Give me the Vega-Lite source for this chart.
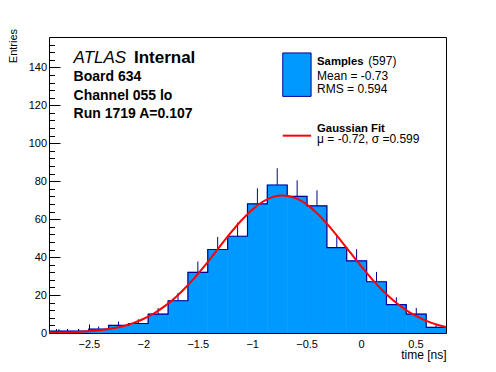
{
  "$schema": "https://vega.github.io/schema/vega-lite/v6.json",
  "width": 397,
  "height": 296,
  "autosize": "none",
  "padding": {"left": 49, "top": 37, "right": 50, "bottom": 39},
  "background": "white",
  "config": {
    "view": {"stroke": "black", "strokeWidth": 1},
    "font": "Liberation Sans",
    "text": {"font": "Liberation Sans", "color": "black", "align": "left", "baseline": "alphabetic"}
  },
  "datasets": {
    "hist": [
      {"start": -2.866, "end": -2.684, "mid": -2.775, "count": 1, "err": 1},
      {"start": -2.684, "end": -2.501, "mid": -2.593, "count": 1, "err": 1},
      {"start": -2.501, "end": -2.319, "mid": -2.41, "count": 2, "err": 1.41},
      {"start": -2.319, "end": -2.137, "mid": -2.228, "count": 4, "err": 2},
      {"start": -2.137, "end": -1.955, "mid": -2.046, "count": 5, "err": 2.24},
      {"start": -1.955, "end": -1.772, "mid": -1.864, "count": 10, "err": 3.16},
      {"start": -1.772, "end": -1.59, "mid": -1.681, "count": 17, "err": 4.12},
      {"start": -1.59, "end": -1.408, "mid": -1.499, "count": 32, "err": 5.66},
      {"start": -1.408, "end": -1.225, "mid": -1.317, "count": 44, "err": 6.63},
      {"start": -1.225, "end": -1.043, "mid": -1.134, "count": 51, "err": 7.14},
      {"start": -1.043, "end": -0.861, "mid": -0.952, "count": 68, "err": 8.25},
      {"start": -0.861, "end": -0.678, "mid": -0.77, "count": 78, "err": 8.83},
      {"start": -0.678, "end": -0.496, "mid": -0.587, "count": 72, "err": 8.49},
      {"start": -0.496, "end": -0.314, "mid": -0.405, "count": 67, "err": 8.19},
      {"start": -0.314, "end": -0.132, "mid": -0.223, "count": 45, "err": 6.71},
      {"start": -0.132, "end": 0.051, "mid": -0.041, "count": 38, "err": 6.16},
      {"start": 0.051, "end": 0.233, "mid": 0.142, "count": 27, "err": 5.2},
      {"start": 0.233, "end": 0.415, "mid": 0.324, "count": 15, "err": 3.87},
      {"start": 0.415, "end": 0.598, "mid": 0.507, "count": 10, "err": 3.16},
      {"start": 0.598, "end": 0.78, "mid": 0.689, "count": 3, "err": 1.73}
    ],
    "fit": [
      {"t": -2.866, "f": 0.11}, {"t": -2.8, "f": 0.175}, {"t": -2.7, "f": 0.31}, {"t": -2.6, "f": 0.53},
      {"t": -2.5, "f": 0.88}, {"t": -2.4, "f": 1.42}, {"t": -2.3, "f": 2.24}, {"t": -2.2, "f": 3.43},
      {"t": -2.1, "f": 5.1}, {"t": -2.0, "f": 7.39}, {"t": -1.9, "f": 10.41}, {"t": -1.8, "f": 14.27},
      {"t": -1.7, "f": 19.01}, {"t": -1.6, "f": 24.64}, {"t": -1.5, "f": 31.06}, {"t": -1.4, "f": 38.06},
      {"t": -1.3, "f": 45.37}, {"t": -1.2, "f": 52.59}, {"t": -1.1, "f": 59.28}, {"t": -1.0, "f": 65.0},
      {"t": -0.9, "f": 69.3}, {"t": -0.8, "f": 71.86}, {"t": -0.72, "f": 72.5}, {"t": -0.6, "f": 71.06},
      {"t": -0.5, "f": 67.77}, {"t": -0.4, "f": 62.86}, {"t": -0.3, "f": 56.7}, {"t": -0.2, "f": 49.74},
      {"t": -0.1, "f": 42.43}, {"t": 0.0, "f": 35.21}, {"t": 0.1, "f": 28.4}, {"t": 0.2, "f": 22.29},
      {"t": 0.3, "f": 17.01}, {"t": 0.4, "f": 12.62}, {"t": 0.5, "f": 9.11}, {"t": 0.6, "f": 6.39},
      {"t": 0.7, "f": 4.36}, {"t": 0.78, "f": 3.15}
    ]
  },
  "layer": [
    {
      "data": {"name": "hist"},
      "mark": {"type": "errorbar", "color": "#000099", "thickness": 1},
      "encoding": {
        "x": {"field": "mid", "type": "quantitative", "title": "time [ns]", "scale": {"domain": [-2.866, 0.78], "nice": false, "zero": false}},
        "y": {"field": "count", "type": "quantitative", "title": "Entries", "scale": {"domain": [0, 156], "nice": false, "zero": false}},
        "yError": {"field": "err"}
      }
    },
    {
      "data": {"name": "hist"},
      "mark": {"type": "rect", "fill": "#0099ff", "stroke": "#0099ff", "strokeWidth": 0.6, "clip": true},
      "encoding": {
        "x": {
          "field": "start", "type": "quantitative",
          "scale": {"domain": [-2.866, 0.78], "nice": false, "zero": false},
          "axis": {
            "values": [-2.8, -2.7, -2.6, -2.5, -2.4, -2.3, -2.2, -2.1, -2.0, -1.9, -1.8, -1.7, -1.6, -1.5, -1.4, -1.3, -1.2, -1.1, -1.0, -0.9, -0.8, -0.7, -0.6, -0.5, -0.4, -0.3, -0.2, -0.1, 0, 0.1, 0.2, 0.3, 0.4, 0.5, 0.6, 0.7],
            "tickCount": 500,
            "format": ".1~f",
            "labelExpr": "abs(round(datum.value*10)) % 5 === 0 ? datum.label : ''",
            "tickSize": {"condition": {"test": "abs(round(datum.value*10)) % 5 === 0", "value": -9}, "value": -4.5},
            "tickColor": "black",
            "tickWidth": 1,
            "domain": false,
            "grid": false,
            "labelFont": "Liberation Sans",
            "labelFontSize": 11,
            "labelColor": "black",
            "labelPadding": 14.5,
            "labelFlush": false,
            "labelOverlap": false,
            "title": "time [ns]",
            "titleFont": "Liberation Sans",
            "titleFontSize": 12,
            "titleFontWeight": "normal",
            "titleColor": "black",
            "titleAnchor": "end",
            "titleAlign": "right",
            "titleBaseline": "alphabetic",
            "titleX": 397,
            "titleY": 25.5
          }
        },
        "x2": {"field": "end"},
        "y": {
          "field": "count", "type": "quantitative",
          "scale": {"domain": [0, 156], "nice": false, "zero": false},
          "axis": {
            "values": [0, 4, 8, 12, 16, 20, 24, 28, 32, 36, 40, 44, 48, 52, 56, 60, 64, 68, 72, 76, 80, 84, 88, 92, 96, 100, 104, 108, 112, 116, 120, 124, 128, 132, 136, 140, 144, 148, 152],
            "tickCount": 500,
            "format": "d",
            "labelExpr": "datum.value % 20 === 0 ? datum.label : ''",
            "tickSize": {"condition": {"test": "datum.value % 20 === 0", "value": -11}, "value": -5.5},
            "tickColor": "black",
            "tickWidth": 1,
            "domain": false,
            "grid": false,
            "labelFont": "Liberation Sans",
            "labelFontSize": 11,
            "labelColor": "black",
            "labelPadding": 13.5,
            "labelFlush": false,
            "labelOverlap": false,
            "title": "Entries",
            "titleFont": "Liberation Sans",
            "titleFontSize": 11,
            "titleFontWeight": "normal",
            "titleColor": "black",
            "titleAngle": -90,
            "titleAlign": "right",
            "titleBaseline": "alphabetic",
            "titleX": -32.5,
            "titleY": -8.6
          }
        },
        "y2": {"datum": 0}
      }
    },
    {
      "data": {"name": "hist"},
      "transform": [{"fold": ["start", "end"], "as": ["side", "ex"]}],
      "mark": {"type": "line", "color": "#000099", "strokeWidth": 1.2, "clip": true},
      "encoding": {
        "x": {"field": "ex", "type": "quantitative", "scale": {"domain": [-2.866, 0.78], "nice": false, "zero": false}},
        "y": {"field": "count", "type": "quantitative", "scale": {"domain": [0, 156], "nice": false, "zero": false}},
        "order": [{"field": "ex", "type": "quantitative"}, {"field": "side", "type": "nominal"}]
      }
    },
    {
      "data": {"name": "fit"},
      "mark": {"type": "line", "color": "#ff0000", "strokeWidth": 2, "interpolate": "monotone", "clip": true},
      "encoding": {
        "x": {"field": "t", "type": "quantitative", "scale": {"domain": [-2.866, 0.78], "nice": false, "zero": false}},
        "y": {"field": "f", "type": "quantitative", "scale": {"domain": [0, 156], "nice": false, "zero": false}}
      }
    },
    {
      "data": {"values": [{"a": -0.719, "b": -0.459, "lo": 124.7, "hi": 147.6}]},
      "mark": {"type": "rect", "fill": "#0099ff", "stroke": "#000099", "strokeWidth": 1},
      "encoding": {
        "x": {"field": "a", "type": "quantitative", "scale": {"domain": [-2.866, 0.78], "nice": false, "zero": false}},
        "x2": {"field": "b"},
        "y": {"field": "lo", "type": "quantitative", "scale": {"domain": [0, 156], "nice": false, "zero": false}},
        "y2": {"field": "hi"}
      }
    },
    {
      "data": {"values": [{"a": -0.719, "b": -0.459, "v": 104.0}]},
      "mark": {"type": "rule", "color": "#ff0000", "strokeWidth": 2},
      "encoding": {
        "x": {"field": "a", "type": "quantitative", "scale": {"domain": [-2.866, 0.78], "nice": false, "zero": false}},
        "x2": {"field": "b"},
        "y": {"field": "v", "type": "quantitative", "scale": {"domain": [0, 156], "nice": false, "zero": false}}
      }
    },
    {
      "data": {"values": [{"label": "ATLAS", "px": -2.64, "py": 142.3}]},
      "mark": {"type": "text", "fontSize": 17, "fontStyle": "italic", "fontWeight": "normal"},
      "encoding": {
        "x": {"field": "px", "type": "quantitative", "scale": {"domain": [-2.866, 0.78], "nice": false, "zero": false}},
        "y": {"field": "py", "type": "quantitative", "scale": {"domain": [0, 156], "nice": false, "zero": false}},
        "text": {"field": "label"}
      }
    },
    {
      "data": {"values": [{"label": "Internal", "px": -2.086, "py": 142.3}]},
      "mark": {"type": "text", "fontSize": 17, "fontWeight": "bold"},
      "encoding": {
        "x": {"field": "px", "type": "quantitative", "scale": {"domain": [-2.866, 0.78], "nice": false, "zero": false}},
        "y": {"field": "py", "type": "quantitative", "scale": {"domain": [0, 156], "nice": false, "zero": false}},
        "text": {"field": "label"}
      }
    },
    {
      "data": {"values": [
        {"label": "Board 634", "px": -2.64, "py": 132.6},
        {"label": "Channel 055 lo", "px": -2.64, "py": 123.0},
        {"label": "Run 1719 A=0.107", "px": -2.64, "py": 113.3}
      ]},
      "mark": {"type": "text", "fontSize": 14, "fontWeight": "bold"},
      "encoding": {
        "x": {"field": "px", "type": "quantitative", "scale": {"domain": [-2.866, 0.78], "nice": false, "zero": false}},
        "y": {"field": "py", "type": "quantitative", "scale": {"domain": [0, 156], "nice": false, "zero": false}},
        "text": {"field": "label"}
      }
    },
    {
      "data": {"values": [
        {"label": "Samples", "px": -0.404, "py": 141.1},
        {"label": "Gaussian Fit", "px": -0.404, "py": 106.0}
      ]},
      "mark": {"type": "text", "fontSize": 11.3, "fontWeight": "bold"},
      "encoding": {
        "x": {"field": "px", "type": "quantitative", "scale": {"domain": [-2.866, 0.78], "nice": false, "zero": false}},
        "y": {"field": "py", "type": "quantitative", "scale": {"domain": [0, 156], "nice": false, "zero": false}},
        "text": {"field": "label"}
      }
    },
    {
      "data": {"values": [
        {"label": "(597)", "px": 0.067, "py": 141.1},
        {"label": "Mean = -0.73", "px": -0.404, "py": 133.4},
        {"label": "RMS = 0.594", "px": -0.404, "py": 126.7},
        {"label": "μ = -0.72, σ =0.599", "px": -0.404, "py": 99.9}
      ]},
      "mark": {"type": "text", "fontSize": 12, "fontWeight": "normal"},
      "encoding": {
        "x": {"field": "px", "type": "quantitative", "scale": {"domain": [-2.866, 0.78], "nice": false, "zero": false}},
        "y": {"field": "py", "type": "quantitative", "scale": {"domain": [0, 156], "nice": false, "zero": false}},
        "text": {"field": "label"}
      }
    }
  ]
}
